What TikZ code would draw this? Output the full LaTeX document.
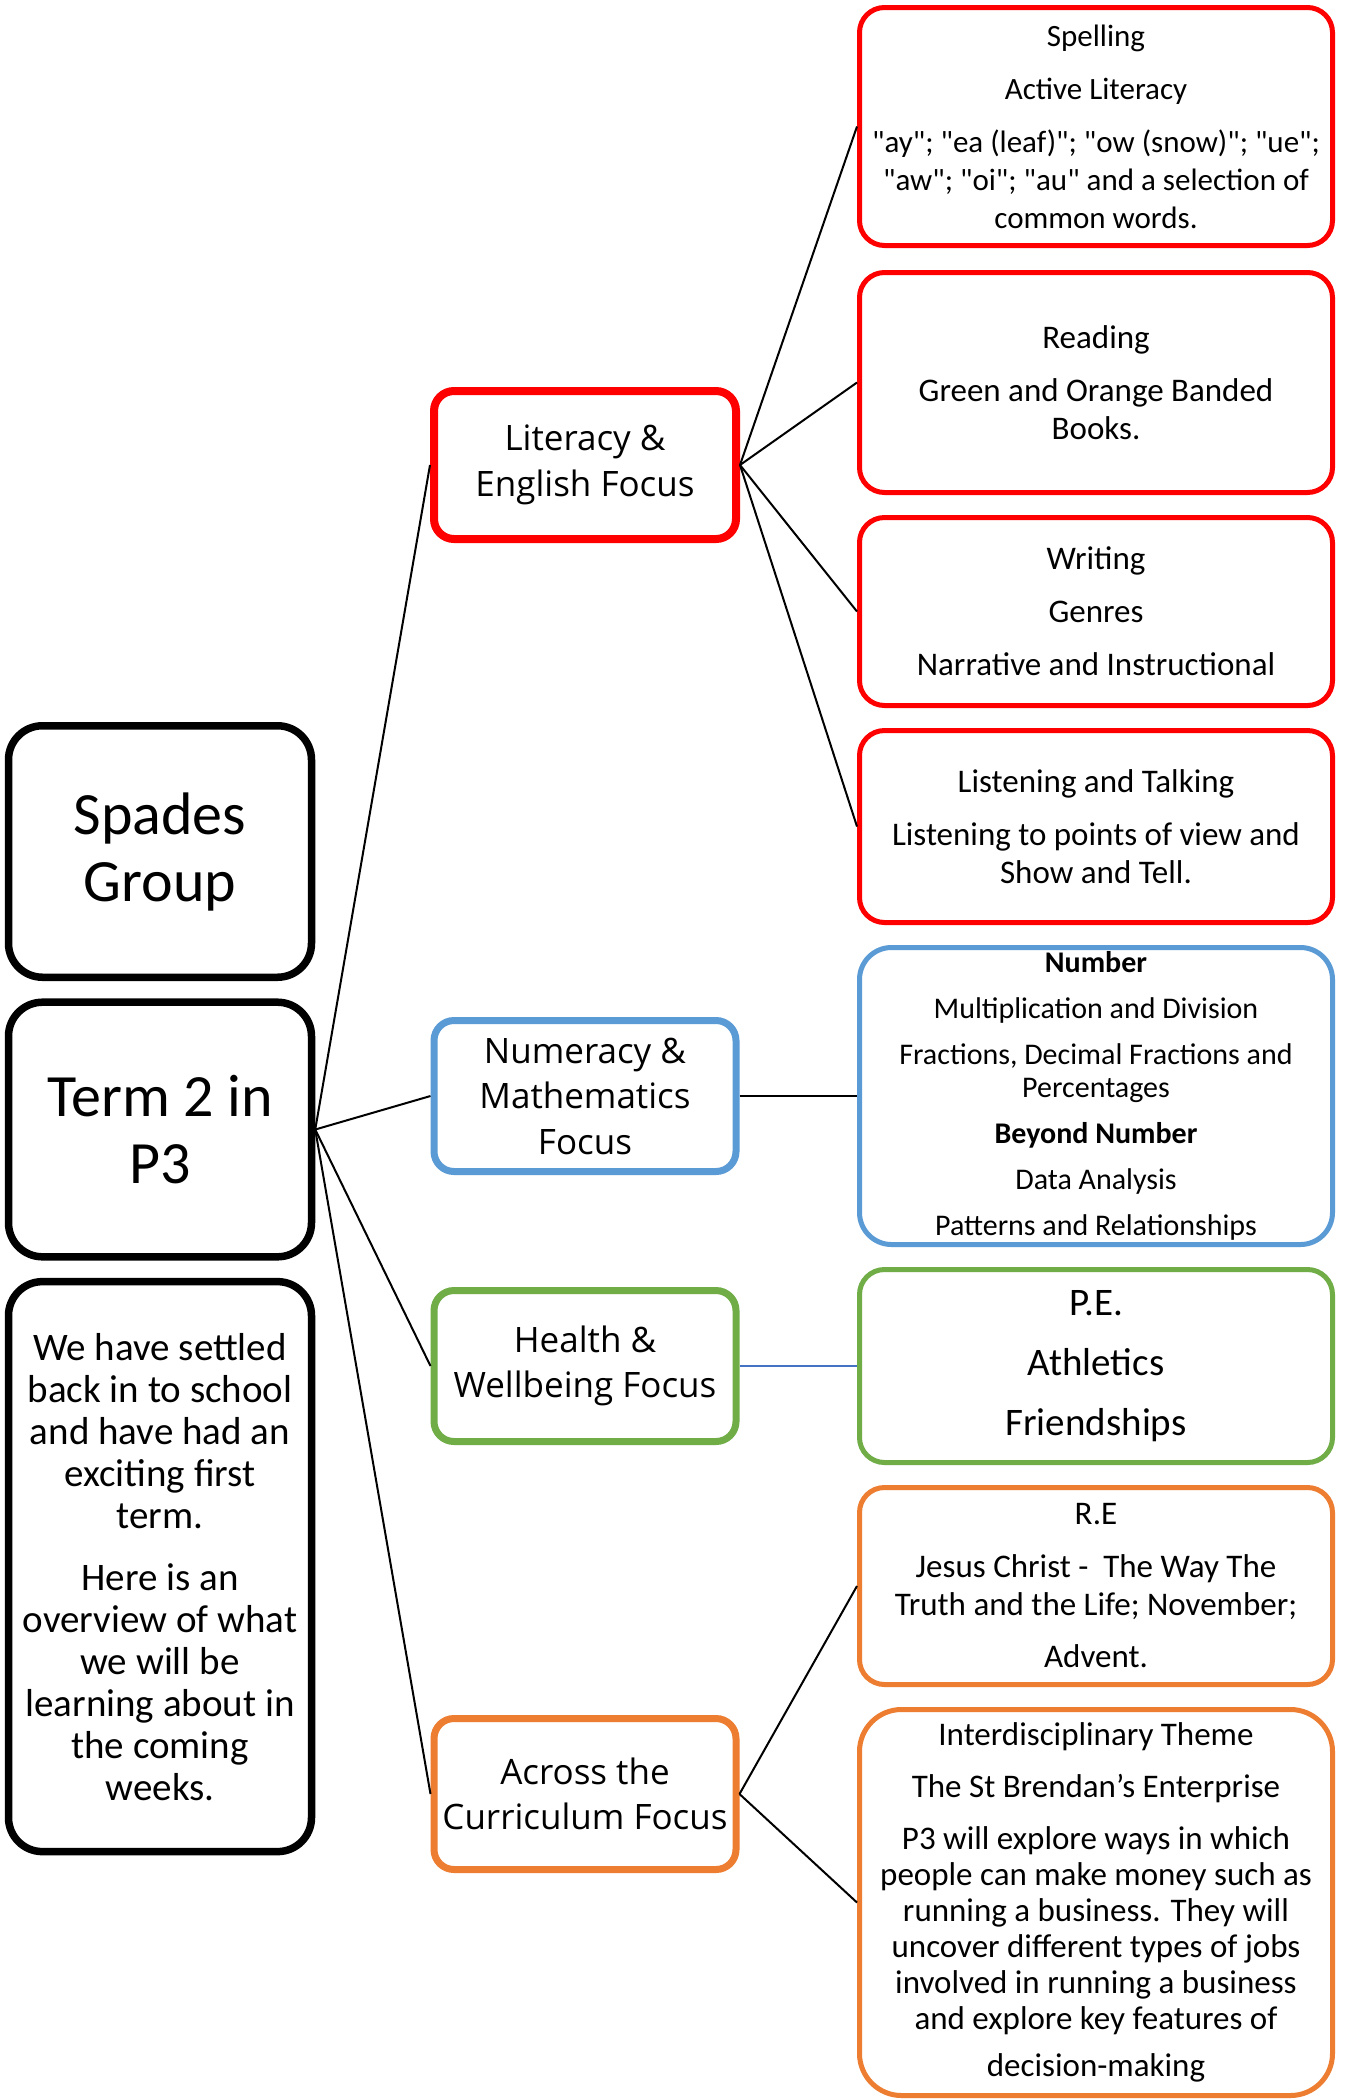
\documentclass[tikz,border=0pt]{standalone}
\usepackage{fontspec}
\setmainfont{Carlito}
\newfontfamily\focusfont{Open Sans}
\definecolor{litred}{HTML}{FF0000}
\definecolor{numblue}{HTML}{5B9BD5}
\definecolor{hwbgreen}{HTML}{70AD47}
\definecolor{acorange}{HTML}{ED7D31}
\definecolor{linkblue}{HTML}{4472C4}
\newcommand\qt{\textquotedbl}

\begin{document}
\begin{tikzpicture}[x=0.5pt,y=-0.5pt,
    leftbox/.style={draw=black,line width=3.75pt,rounded corners=17pt,
      minimum width=151.5pt,align=center,inner sep=0pt},
    focus/.style={line width=3.5pt,rounded corners=10pt,minimum width=151pt,
      minimum height=75.5pt,align=center,inner sep=0pt,
      font=\focusfont\fontsize{17.5}{22.75}\selectfont},
    topic/.style={line width=2.5pt,rounded corners=12.5pt,minimum width=236.5pt,
      align=center,inner sep=0pt,font=\fontsize{16.5}{19}\selectfont},
    link/.style={line width=1pt}]
  \path[use as bounding box,fill=white] (0,0) rectangle (1345,2100);

  % left column
  \node[leftbox,minimum height=125.75pt,font=\fontsize{30}{33.5}\selectfont]
    (spades) at (160,851.5) {Spades\\Group};
  \node[leftbox,minimum height=127.3pt,font=\fontsize{30}{33.5}\selectfont]
    (term) at (160,1129.5) {Term 2 in\\P3};
  \node[leftbox,minimum height=285pt,font=\fontsize{19.5}{21}\selectfont]
    (intro) at (160,1566.6) {We have settled\\back in to school\\and have had an\\exciting first\\term.\\[10pt]
      Here is an\\overview of what\\we will be\\learning about in\\the coming\\weeks.};

  % focus areas
  \node[focus,draw=litred,line width=4pt,minimum height=74pt] (lit) at (585,465) {Literacy \&\\English Focus};
  \node[focus,draw=numblue] (num) at (585,1096) {Numeracy \&\\Mathematics\\Focus};
  \node[focus,draw=hwbgreen] (hwb) at (585,1366) {Health \&\\Wellbeing Focus};
  \node[focus,draw=acorange] (cur) at (585,1794) {Across the\\Curriculum Focus};

  % topics
  \node[topic,draw=litred,minimum height=119pt,font=\fontsize{15.5}{19}\selectfont] (spell) at (1096,126.5)
    {Spelling\\[7.5pt]Active Literacy\\[7.5pt]\qt ay\qt; \qt ea (leaf)\qt; \qt ow (snow)\qt; \qt ue\qt;\\
      \qt aw\qt; \qt oi\qt; \qt au\qt\ and a selection of\\common words.};
  \node[topic,draw=litred,minimum height=110pt] (read) at (1096,382.5)
    {Reading\\[7.5pt]Green and Orange Banded\\Books.};
  \node[topic,draw=litred,minimum height=94pt] (write) at (1096,611.5)
    {Writing\\[7.5pt]Genres\\[7.5pt]Narrative and Instructional};
  \node[topic,draw=litred,minimum height=96pt] (talk) at (1096,826.5)
    {Listening and Talking\\[7.5pt]Listening to points of view and\\Show and Tell.};
  \node[topic,draw=numblue,rounded corners=16pt,minimum height=148.5pt,
    font=\fontsize{15}{16.5}\selectfont] (number) at (1096,1096)
    {\textbf{Number}\\[6.5pt]Multiplication and Division\\[6.5pt]Fractions, Decimal Fractions and\\Percentages\\[6.5pt]
      \textbf{Beyond Number}\\[6.5pt]Data Analysis\\[6.5pt]Patterns and Relationships};
  \node[topic,draw=hwbgreen,minimum height=96.5pt,font=\fontsize{19.5}{30}\selectfont]
    (pe) at (1096,1366) {P.E.\\Athletics\\Friendships};
  \node[topic,draw=acorange,minimum height=98.5pt] (re) at (1096,1586)
    {R.E\\[7.5pt]Jesus Christ -\ \ The Way The\\Truth and the Life; November;\\[7pt]Advent.};
  \node[topic,draw=acorange,rounded corners=21pt,minimum height=193pt,
    font=\fontsize{16.5}{18}\selectfont] (idl) at (1096,1902.5)
    {Interdisciplinary Theme\\[8pt]The St Brendan’s Enterprise\\[8pt]P3 will explore ways in which\\people can make money such as\\
      running a business. They will\\uncover different types of jobs\\involved in running a business\\and explore key features of\\[5.5pt]decision-making};

  \begin{scope}[link]
    \draw (term.east) -- (lit.west);
    \draw (term.east) -- (num.west);
    \draw (term.east) -- (hwb.west);
    \draw (term.east) -- (cur.west);
    \draw (lit.east) -- (spell.west);
    \draw (lit.east) -- (read.west);
    \draw (lit.east) -- (write.west);
    \draw (lit.east) -- (talk.west);
    \draw (num.east) -- (number.west);
    \draw[linkblue] (hwb.east) -- (pe.west);
    \draw (cur.east) -- (re.west);
    \draw (cur.east) -- (idl.west);
  \end{scope}
\end{tikzpicture}
\end{document}
